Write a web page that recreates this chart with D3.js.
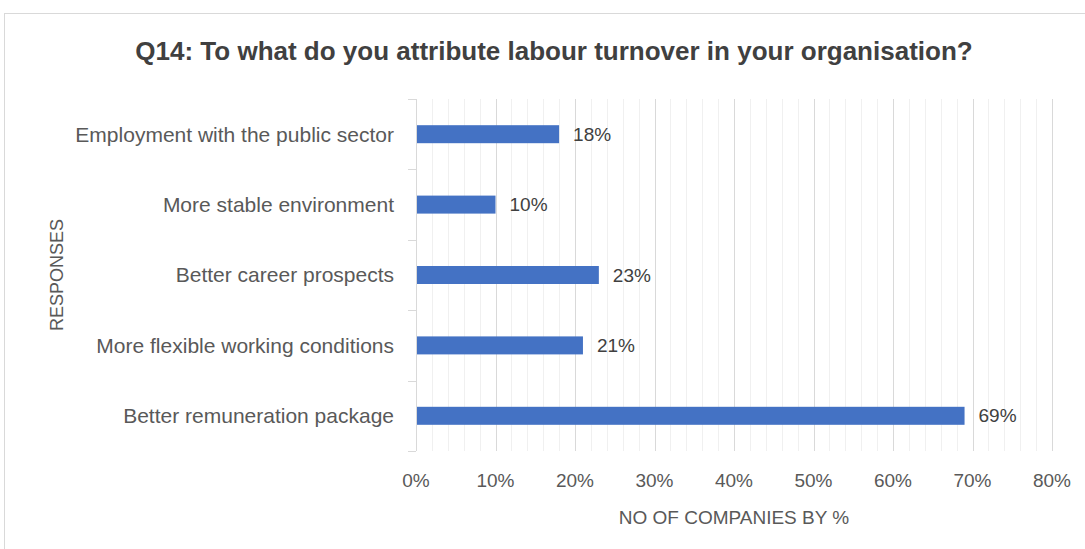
<!DOCTYPE html>
<html>
<head>
<meta charset="utf-8">
<script src="https://cdn.jsdelivr.net/npm/d3@7"></script>
<style>
  html, body { margin: 0; padding: 0; background: #ffffff; }
  svg { display: block; }
  text { font-family: "Liberation Sans", Arial, sans-serif; }
</style>
</head>
<body>
<svg id="chart" width="1085" height="549"></svg>
<script>
// Survey responses, listed top to bottom
const categories = [
  "Employment with the public sector",
  "More stable environment",
  "Better career prospects",
  "More flexible working conditions",
  "Better remuneration package"
];
const values = [18, 10, 23, 21, 69];
const xTicks = [0, 10, 20, 30, 40, 50, 60, 70, 80];
const minorTicks = d3.range(0, 81, 2);

const chartTitle = "Q14: To what do you attribute labour turnover in your organisation?";
const xTitle = "NO OF COMPANIES BY %";
const yTitle = "RESPONSES";

const svg = d3.select("#chart");
const W = 1085, H = 549;
const plot = { left: 416, right: 1052, top: 99, bottom: 451 };

// Chart frame
svg.append("rect")
  .attr("x", 4.5).attr("y", 13.5)
  .attr("width", W + 10).attr("height", H)
  .attr("fill", "#ffffff").attr("stroke", "#d9d9d9");

const x = d3.scaleLinear().domain([0, 80]).range([plot.left, plot.right]);
const y = d3.scaleBand().domain(categories).range([plot.top, plot.bottom]).paddingInner(0).paddingOuter(0);

// Minor gridlines every 2%
svg.append("g").selectAll("line")
  .data(minorTicks.filter(d => d % 10 !== 0))
  .join("line")
  .attr("x1", d => Math.round(x(d)) + 0.5).attr("x2", d => Math.round(x(d)) + 0.5)
  .attr("y1", plot.top).attr("y2", plot.bottom)
  .attr("stroke", "#f0f0f0").attr("stroke-width", 1);

// Major gridlines every 10%
svg.append("g").selectAll("line")
  .data(xTicks.filter(d => d > 0))
  .join("line")
  .attr("x1", d => Math.round(x(d)) + 0.5).attr("x2", d => Math.round(x(d)) + 0.5)
  .attr("y1", plot.top).attr("y2", plot.bottom)
  .attr("stroke", "#d9d9d9").attr("stroke-width", 1);

// Category axis with tick marks between bands
const yAxis = svg.append("g");
yAxis.append("line")
  .attr("x1", plot.left + 0.5).attr("x2", plot.left + 0.5)
  .attr("y1", plot.top).attr("y2", plot.bottom)
  .attr("stroke", "#d9d9d9");
const bounds = categories.map(c => y(c)).concat([plot.bottom]);
yAxis.selectAll("line.tick")
  .data(bounds)
  .join("line").attr("class", "tick")
  .attr("x1", plot.left - 8).attr("x2", plot.left)
  .attr("y1", d => Math.round(d) + 0.5).attr("y2", d => Math.round(d) + 0.5)
  .attr("stroke", "#d9d9d9");

yAxis.selectAll("text.cat")
  .data(categories)
  .join("text").attr("class", "cat")
  .attr("x", plot.left - 22)
  .attr("y", d => y(d) + y.bandwidth() / 2)
  .attr("dy", "0.35em")
  .attr("text-anchor", "end")
  .attr("font-size", 21)
  .attr("fill", "#595959")
  .text(d => d);

// Bars
const barH = 18;
svg.append("g").selectAll("rect")
  .data(values)
  .join("rect")
  .attr("x", x(0) + 1)
  .attr("y", (d, i) => y(categories[i]) + y.bandwidth() / 2 - barH / 2)
  .attr("width", d => x(d) - x(0) - 1)
  .attr("height", barH)
  .attr("fill", "#4472c4");

// Value labels
svg.append("g").selectAll("text")
  .data(values)
  .join("text")
  .attr("x", d => x(d) + 14)
  .attr("y", (d, i) => y(categories[i]) + y.bandwidth() / 2)
  .attr("dy", "0.35em")
  .attr("font-size", 19)
  .attr("fill", "#404040")
  .text(d => d + "%");

// Value axis tick labels
svg.append("g").selectAll("text")
  .data(xTicks)
  .join("text")
  .attr("x", d => x(d))
  .attr("y", 480)
  .attr("dy", "0.35em")
  .attr("text-anchor", "middle")
  .attr("font-size", 19)
  .attr("fill", "#595959")
  .text(d => d + "%");

// Axis titles
svg.append("text")
  .attr("x", (plot.left + plot.right) / 2)
  .attr("y", 517)
  .attr("dy", "0.35em")
  .attr("text-anchor", "middle")
  .attr("font-size", 19)
  .attr("fill", "#595959")
  .text(xTitle);

svg.append("text")
  .attr("transform", `translate(57,${(plot.top + plot.bottom) / 2}) rotate(-90)`)
  .attr("dy", "0.35em")
  .attr("text-anchor", "middle")
  .attr("font-size", 18)
  .attr("fill", "#595959")
  .text(yTitle);

// Chart title
svg.append("text")
  .attr("x", 554)
  .attr("y", 51)
  .attr("dy", "0.35em")
  .attr("text-anchor", "middle")
  .attr("font-size", 26)
  .attr("font-weight", "bold")
  .attr("fill", "#404040")
  .text(chartTitle);
</script>
</body>
</html>
